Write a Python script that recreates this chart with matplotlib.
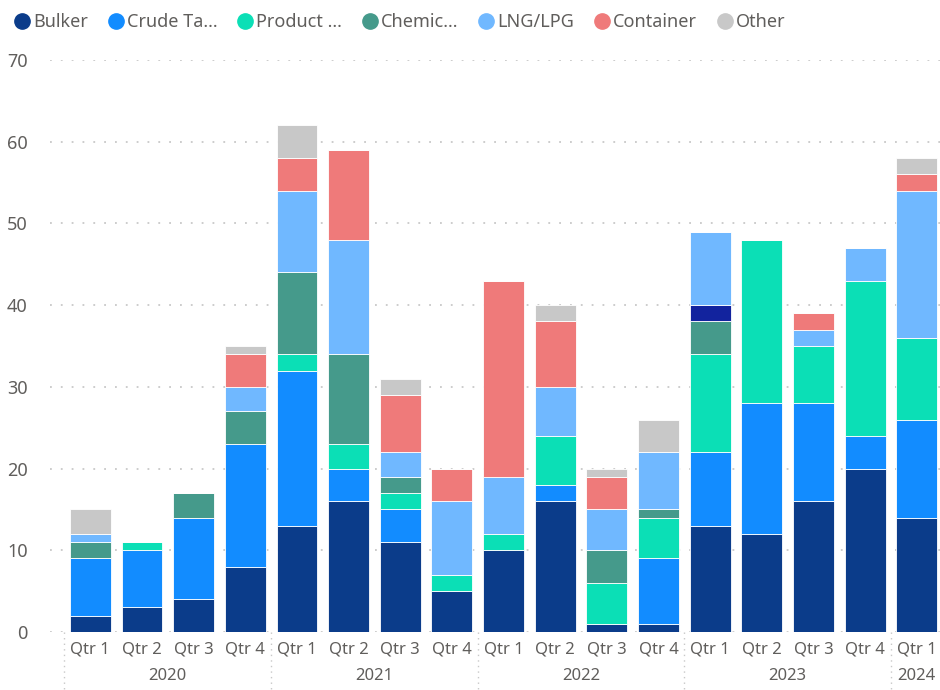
import matplotlib
matplotlib.use("Agg")
import matplotlib.pyplot as plt
from matplotlib.lines import Line2D
import matplotlib.transforms as mtransforms
import numpy as np

plt.rcParams['font.family'] = ['Noto Sans', 'DejaVu Sans']

quarters = ["Qtr 1", "Qtr 2", "Qtr 3", "Qtr 4",
            "Qtr 1", "Qtr 2", "Qtr 3", "Qtr 4",
            "Qtr 1", "Qtr 2", "Qtr 3", "Qtr 4",
            "Qtr 1", "Qtr 2", "Qtr 3", "Qtr 4",
            "Qtr 1"]
years = ["2020", "2021", "2022", "2023", "2024"]
year_counts = [4, 4, 4, 4, 1]

bulker    = [2, 3, 4, 8, 13, 16, 11, 5, 10, 16, 1, 1, 13, 12, 16, 20, 14]
crude     = [7, 7, 10, 15, 19, 4, 4, 0, 0, 2, 0, 8, 9, 16, 12, 4, 12]
product   = [0, 1, 0, 0, 2, 3, 2, 2, 2, 6, 5, 5, 12, 20, 7, 19, 10]
chemical  = [2, 0, 3, 4, 10, 11, 2, 0, 0, 0, 4, 1, 4, 0, 0, 0, 0]
unlisted  = [0, 0, 0, 0, 0, 0, 0, 0, 0, 0, 0, 0, 2, 0, 0, 0, 0]
lng       = [1, 0, 0, 3, 10, 14, 3, 9, 7, 6, 5, 7, 9, 0, 2, 4, 18]
container = [0, 0, 0, 4, 4, 11, 7, 4, 24, 8, 4, 0, 0, 0, 2, 0, 2]
other     = [3, 0, 0, 1, 4, 0, 2, 0, 0, 2, 1, 4, 0, 0, 0, 0, 2]

series = [bulker, crude, product, chemical, unlisted, lng, container, other]
names = ["Bulker", "Crude Ta...", "Product ...", "Chemic...", None, "LNG/LPG", "Container", "Other"]
colors = ["#0B3C8A", "#128CFF", "#0BDFB6", "#459A8B", "#12239E", "#70B8FF", "#EF7A7A", "#C8C8C8"]

fig = plt.figure(figsize=(9.4, 6.9), dpi=100)
ax = fig.add_axes([50/940, 58/690, 890/940, 572/690])

x = np.arange(len(quarters))
bottom = np.zeros(len(quarters))
for vals, c in zip(series, colors):
    v = np.array(vals, dtype=float)
    ax.bar(x, v, bottom=bottom, width=0.79, color=c, edgecolor='white', linewidth=0.6, zorder=3)
    bottom += v

ax.set_ylim(0, 70)
ax.set_xlim(-0.78, 16.45)
ax.set_yticks(range(0, 71, 10))
ax.yaxis.grid(True, color='#C8C8C8', linestyle=(0, (1, 5)), linewidth=1.3, zorder=0)
for s in ax.spines.values():
    s.set_visible(False)
ax.tick_params(axis='y', length=0, pad=16, labelsize=13, labelcolor='#605E5C')
ax.set_xticks(x)
ax.set_xticklabels(quarters)
ax.tick_params(axis='x', length=0, pad=7, labelsize=12, labelcolor='#605E5C')

# year separators and labels
trans = mtransforms.blended_transform_factory(ax.transData, ax.transAxes)
start = 0
bounds = [-0.5]
for yr, n in zip(years, year_counts):
    center = start + (n - 1) / 2
    ax.text(center, -0.077, yr, transform=trans, ha='center', va='center',
            fontsize=12, color='#605E5C')
    start += n
    bounds.append(start - 0.5)
for b in bounds[:-1]:
    ax.plot([b, b], [0, -0.1], transform=trans, color='#C8C8C8',
            linestyle=(0, (1, 3)), linewidth=1, clip_on=False)

handles = [Line2D([], [], marker='o', linestyle='None', markersize=11,
                  markerfacecolor=c, markeredgecolor=c)
           for n, c in zip(names, colors) if n is not None]
labels = [n for n in names if n is not None]
fig.legend(handles, labels, loc='center left', bbox_to_anchor=(0.016, 0.968),
           ncol=7, frameon=False, fontsize=13, handlelength=0.8,
           handletextpad=0.2, columnspacing=1.15, labelcolor='#605E5C',
           borderaxespad=0, borderpad=0)

fig.savefig("out.png", dpi=100)
